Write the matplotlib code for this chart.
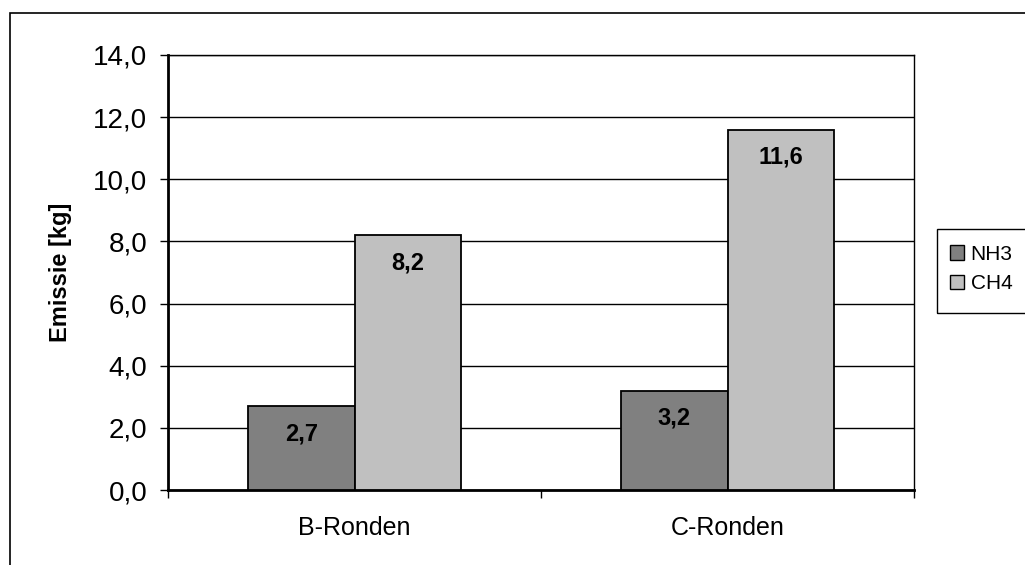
import matplotlib.pyplot as plt
import matplotlib.patches as mpatches
import numpy as np

# Emission per round
categories = ['B-Ronden', 'C-Ronden']
series_names = ['NH3', 'CH4']
nh3 = [2.7, 3.2]
ch4 = [8.2, 11.6]
series_values = [nh3, ch4]
series_colors = ['#808080', '#c0c0c0']
y_ticks = [0, 2, 4, 6, 8, 10, 12, 14]

plt.rcParams['font.family'] = ['Liberation Sans', 'DejaVu Sans']

W, H = 1025, 565
fig = plt.figure(figsize=(W / 100, H / 100), dpi=100)
ax = fig.add_axes([168 / W, 1 - 490 / H, (914 - 168) / W, (490 - 55) / H])

# outer chart border, runs past the right and bottom edges
fig.patches.append(mpatches.Rectangle((10 / W, -0.05), 1.2, 1 - 13 / H + 0.05,
                                      transform=fig.transFigure, fill=False,
                                      edgecolor='black', linewidth=1.2))

x = np.arange(len(categories))
width = 1 / 3.5
for i, (name, vals, col) in enumerate(zip(series_names, series_values, series_colors)):
    pos = x + (i - 0.5) * width
    ax.bar(pos, vals, width=width, color=col, edgecolor='black', linewidth=1.3,
           label=name, zorder=3)
    for px, v in zip(pos, vals):
        ax.annotate(f'{v:.1f}'.replace('.', ','), xy=(px, v), xytext=(0, -20),
                    textcoords='offset points', ha='center', va='center',
                    fontsize=17, fontweight='bold', zorder=4)

ax.set_xlim(-0.5, len(categories) - 0.5)
ax.set_ylim(0, 14)
ax.set_yticks(y_ticks)
ax.set_yticklabels([f'{t:.1f}'.replace('.', ',') for t in y_ticks])
ax.yaxis.grid(True, color='black', linewidth=1.0, zorder=0)
ax.set_axisbelow(True)

ax.set_xticks(x)
ax.set_xticklabels(categories)
ax.set_xticks(np.arange(len(categories) + 1) - 0.5, minor=True)
ax.tick_params(axis='x', which='major', length=0, pad=19, labelsize=18)
ax.tick_params(axis='x', which='minor', length=6, width=1.0, direction='out')
ax.tick_params(axis='y', length=6, width=1.0, direction='out', pad=9, labelsize=20)

for side in ['top', 'right']:
    ax.spines[side].set_linewidth(1.0)
for side in ['left', 'bottom']:
    ax.spines[side].set_linewidth(2.0)

ax.set_ylabel('Emissie [kg]', fontsize=17, fontweight='bold')
ax.yaxis.set_label_coords(-0.129, 0.5)

# legend box also runs past the right edge
fig.patches.append(mpatches.Rectangle((937 / W, 1 - 313 / H), 0.2, (313 - 229) / H,
                                      transform=fig.transFigure, fill=False,
                                      edgecolor='black', linewidth=1.0))
handles = [mpatches.Patch(facecolor=c, edgecolor='black', linewidth=1.0, label=n)
           for n, c in zip(series_names, series_colors)]
fig.legend(handles=handles, loc='upper left', bbox_to_anchor=(933 / W, 1 - 228 / H),
           frameon=False, fontsize=15, handlelength=0.7, handleheight=0.7,
           handletextpad=0.3, labelspacing=0.5, borderpad=0.3)

fig.savefig('out.png', dpi=100, facecolor='white')
